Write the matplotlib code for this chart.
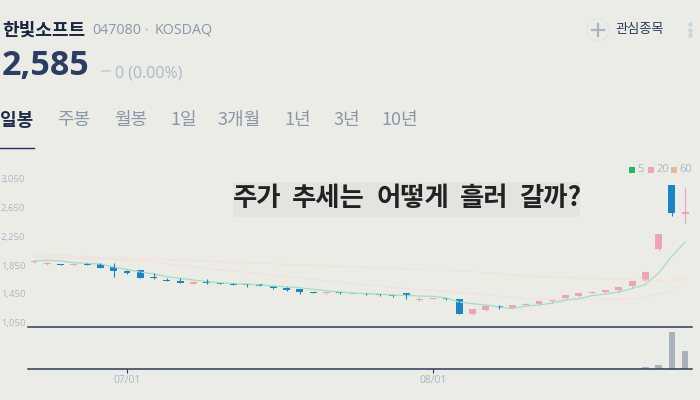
import matplotlib
matplotlib.use('Agg')
import matplotlib.pyplot as plt
from matplotlib.patches import Circle, Rectangle

plt.rcParams['font.family'] = ['Noto Sans CJK KR', 'DejaVu Sans']

opens = [1892, 1864, 1868, 1850, 1871, 1864, 1822, 1767, 1781, 1683,
         1642, 1628, 1582, 1624, 1600, 1596, 1586, 1586, 1562, 1531,
         1517, 1475, 1461, 1475, 1451, 1461, 1451, 1433, 1461, 1368,
         1378, 1392, 1378, 1169, 1225, 1274, 1253, 1294, 1308, 1350,
         1392, 1419, 1461, 1475, 1499, 1558, 1628, 2072, 2961, 2565]
closes = [1906, 1882, 1850, 1868, 1850, 1808, 1767, 1739, 1669, 1665,
          1632, 1600, 1614, 1604, 1586, 1576, 1572, 1558, 1531, 1503,
          1479, 1461, 1475, 1461, 1465, 1443, 1433, 1424, 1429, 1378,
          1392, 1378, 1169, 1239, 1280, 1267, 1290, 1308, 1350, 1364,
          1433, 1461, 1475, 1499, 1544, 1628, 1753, 2276, 2568, 2585]
highs = [1906, 1885, 1868, 1868, 1871, 1878, 1878, 1781, 1781, 1739,
         1669, 1669, 1628, 1656, 1600, 1596, 1586, 1586, 1562, 1544,
         1517, 1475, 1475, 1475, 1465, 1461, 1451, 1433, 1461, 1406,
         1392, 1392, 1378, 1239, 1280, 1294, 1290, 1322, 1350, 1364,
         1433, 1475, 1489, 1503, 1558, 1628, 1767, 2276, 2961, 2938]
lows = [1878, 1857, 1850, 1850, 1850, 1808, 1687, 1725, 1669, 1656,
        1628, 1600, 1582, 1586, 1586, 1576, 1544, 1558, 1517, 1489,
        1447, 1461, 1443, 1447, 1451, 1433, 1419, 1412, 1378, 1350,
        1378, 1364, 1169, 1156, 1211, 1239, 1253, 1294, 1308, 1322,
        1378, 1406, 1461, 1461, 1482, 1531, 1628, 2044, 2535, 2438]
ma5 = [1906, 1915, 1906, 1882, 1872, 1864, 1822, 1787, 1753, 1725,
       1687, 1665, 1642, 1618, 1604, 1593, 1586, 1572, 1558, 1548,
       1534, 1512, 1493, 1475, 1465, 1451, 1447, 1433, 1429, 1419,
       1415, 1392, 1336, 1313, 1294, 1267, 1243, 1281, 1294, 1322,
       1364, 1382, 1426, 1447, 1476, 1523, 1579, 1739, 1975, 2169]
ma20 = [1965, 1961, 1954, 1947, 1940, 1933, 1926, 1919, 1906, 1892,
        1871, 1843, 1826, 1799, 1781, 1767, 1749, 1729, 1711, 1687,
        1669, 1651, 1628, 1610, 1590, 1576, 1558, 1540, 1526, 1512,
        1499, 1485, 1461, 1457, 1443, 1419, 1401, 1387, 1378, 1374,
        1374, 1374, 1374, 1374, 1374, 1387, 1401, 1443, 1503, 1572]
ma60 = [1999, 1992, 1983, 1976, 1969, 1961, 1954, 1947, 1939, 1932,
        1925, 1917, 1910, 1903, 1894, 1888, 1881, 1874, 1867, 1860,
        1853, 1846, 1837, 1831, 1824, 1817, 1810, 1803, 1796, 1789,
        1782, 1775, 1767, 1758, 1744, 1731, 1714, 1703, 1687, 1681,
        1674, 1667, 1661, 1656, 1651, 1644, 1640, 1637, 1642, 1651]
vol_days = [46, 47, 48, 49]
volumes = [0.12, 0.3, 3.3, 1.6]
y_ticks = [1050, 1450, 1850, 2250, 2650, 3050]
y_labels = ['1,050', '1,450', '1,850', '2,250', '2,650', '3,050']
date_ticks = [7, 30]
date_labels = ['07/01', '08/01']
tabs = ['주봉', '월봉', '1일', '3개월', '1년', '3년', '10년']
tab_x = [57, 114, 170, 218, 284, 333, 381]
title_words = ['주가', '추세는', '어떻게', '흘러', '갈까?']
title_x = [233, 292, 377, 460, 519]

BG = '#ecece7'
BLUE = '#1a85c6'
PINK = '#efa2b8'
NAVY = '#2a3a5c'
MUTED = '#a8b8c4'
W, H = 700, 400

fig = plt.figure(figsize=(7, 4), dpi=100, facecolor=BG)

# full figure axes in pixels for the page header
page = fig.add_axes([0, 0, 1, 1])
page.set_xlim(0, W); page.set_ylim(H, 0); page.axis('off')

page.text(2, 30, '한빛소프트', fontsize=13, fontweight='bold', color='#1a2540', va='center')
page.text(92, 30.5, '047080', fontsize=10.3, color='#8b97ab', va='center', family='Open Sans')
page.text(146, 30, '•', fontsize=7, color='#b9c8cc', ha='center', va='center')
page.text(155, 30.5, 'KOSDAQ', fontsize=10.3, color='#8b97ab', va='center', family='Open Sans')
page.text(2, 66, '2,585', fontsize=24.5, fontweight='bold', color='#2b3d63', va='center', family='Open Sans')
page.plot([102, 110], [71, 71], color='#c8d8d6', lw=1.5)
page.text(115, 73.5, '0 (0.00%)', fontsize=11.5, color='#a9bac8', va='center', family='Open Sans')

page.text(0, 120, '일봉', fontsize=13, fontweight='bold', color='#1e2c4c', va='center')
for t, x in zip(tabs, tab_x):
    page.text(x, 120, t, fontsize=13, color='#8b97a8', va='center')
page.plot([0, 34], [148, 148], color='#1e3060', lw=1)

page.add_patch(Circle((598, 30), 11, fc='none', ec='#dde6e4', lw=0.8))
page.plot([592, 604], [30, 30], color='#a7b4c2', lw=1.6)
page.plot([598, 598], [24, 36], color='#a7b4c2', lw=1.6)
page.text(615, 29, '관심종목', fontsize=9.5, color='#2b3b5c', va='center')
page.plot([690, 690, 690], [24, 30, 35], ls='none', marker='o', ms=2.2, color='#c6d6de')

# legend
for x0, col, lab, xt in [(629, '#1dbb5f', '5', 637), (648, PINK, '20', 656), (671, '#e0bc9c', '60', 679)]:
    page.add_patch(Rectangle((x0, 167), 6, 6, fc=col, ec='none'))
    page.text(xt, 170, lab, fontsize=8, color=MUTED, va='center', family='Open Sans')

# price chart
ax = fig.add_axes([28/W, 1-327/H, 664/W, 162/H], facecolor='none')
ax.set_xlim(-0.45, 49.51); ax.set_ylim(989, 3239)
for s in ax.spines.values():
    s.set_visible(False)
ax.spines['bottom'].set_visible(True)
ax.spines['bottom'].set_color(NAVY); ax.spines['bottom'].set_linewidth(1.1)
ax.set_xticks([])
ax.set_yticks(y_ticks)
ax.set_yticklabels(y_labels, family='Open Sans')
ax.tick_params(axis='y', length=0, labelsize=6.8, labelcolor=MUTED, pad=2)
ax.grid(axis='y', color='#e7ece8', lw=0.7)
ax.set_axisbelow(True)

days = range(len(opens))
ax.plot(days, ma60, color='#f2e3d6', lw=0.9)
ax.plot(days, ma20, color='#f3dfe2', lw=0.9)
ax.plot(days, ma5, color='#a3e2c0', lw=1)
for i in days:
    col = PINK if closes[i] >= opens[i] else BLUE
    ax.plot([i, i], [lows[i], highs[i]], color=col, lw=0.8, solid_capstyle='butt')
    ax.bar(i, max(abs(closes[i]-opens[i]), 14), bottom=min(opens[i], closes[i]), width=0.52, color=col)

# volume chart
vax = fig.add_axes([28/W, 1-368.5/H, 664/W, 41.5/H], facecolor='none')
vax.set_xlim(-0.45, 49.51); vax.set_ylim(0, 3.8)
for s in vax.spines.values():
    s.set_visible(False)
vax.spines['bottom'].set_visible(True)
vax.spines['bottom'].set_color(NAVY); vax.spines['bottom'].set_linewidth(1.1)
vax.bar(vol_days, volumes, width=0.48, color='#a9b2b8')
vax.set_yticks([])
vax.set_xticks(date_ticks)
vax.set_xticklabels(date_labels, family='Open Sans')
vax.tick_params(axis='x', length=3, width=0.8, color=NAVY, labelsize=7.5, labelcolor=MUTED, pad=2)

page.set_zorder(3)
page.add_patch(Rectangle((233, 182), 347, 34.5, fc='#e3e3df', ec='none'))
for word, x in zip(title_words, title_x):
    page.text(x, 198, word, fontsize=19, fontweight='bold', color='#222222', va='center')

fig.savefig('out.png', dpi=100, facecolor=BG)
